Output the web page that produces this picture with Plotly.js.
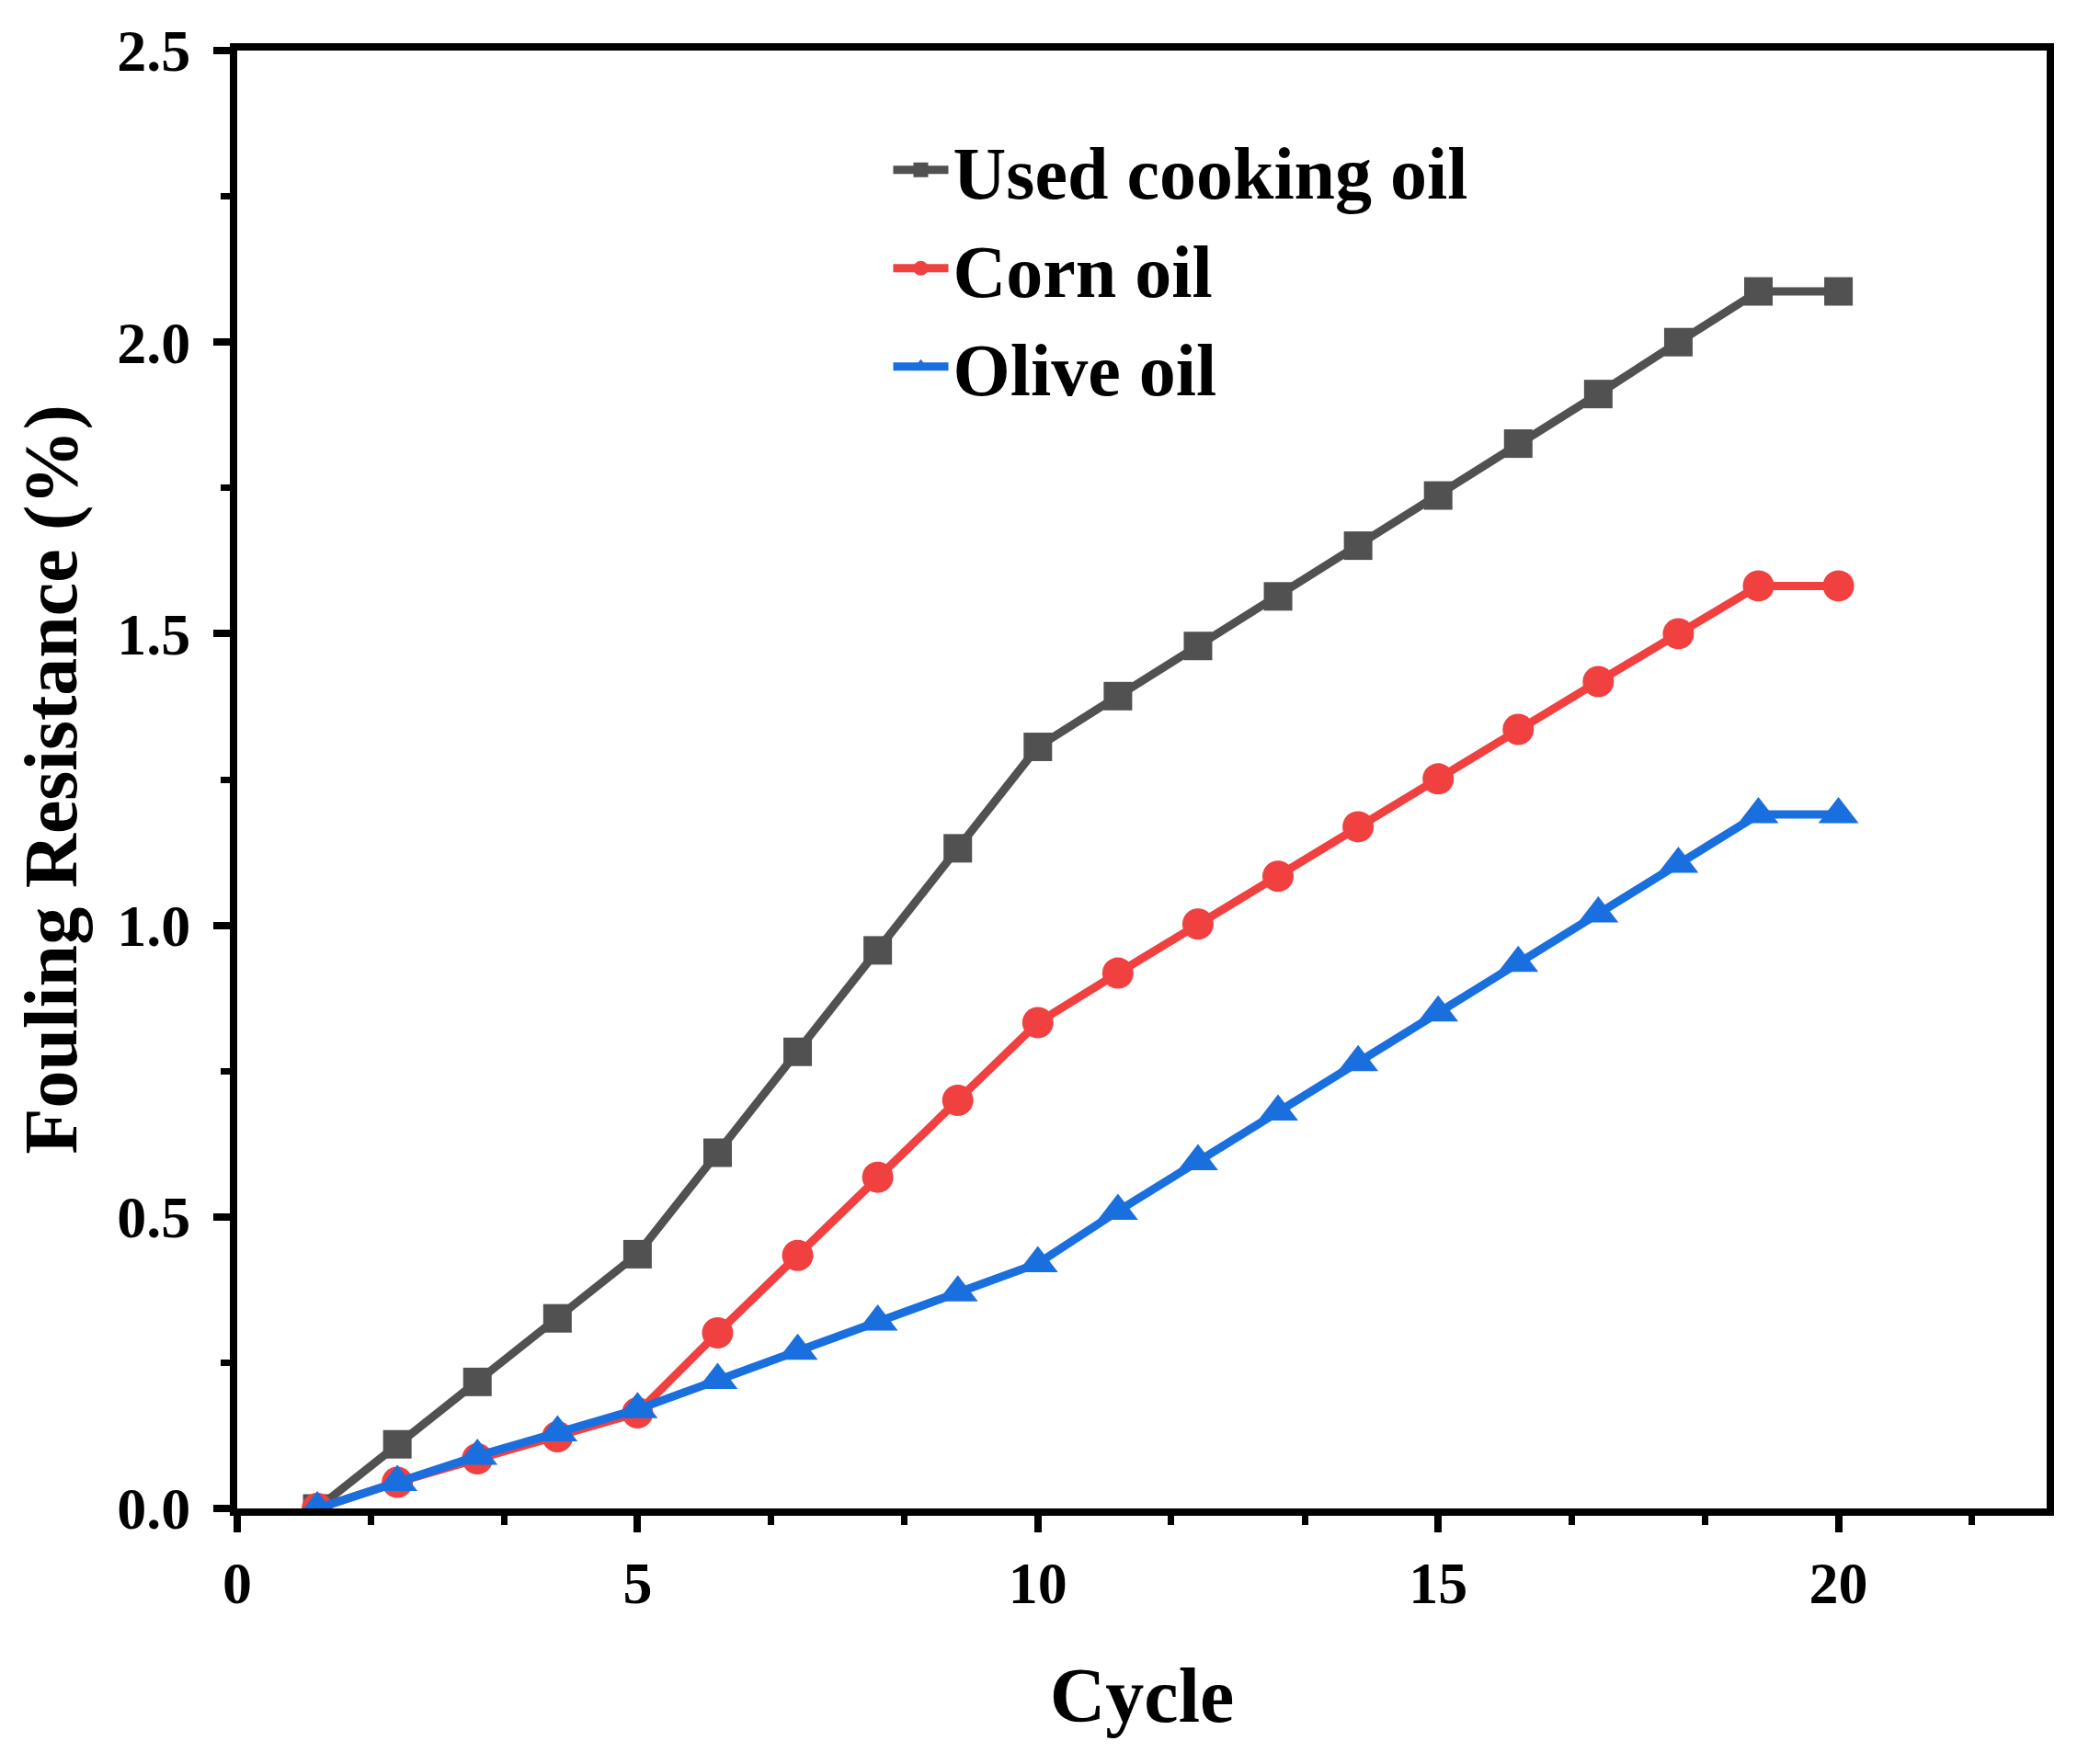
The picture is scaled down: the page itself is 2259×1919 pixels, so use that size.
<!DOCTYPE html>
<html>
<head>
<meta charset="utf-8">
<script src="https://cdn.plot.ly/plotly-3.0.1.min.js"></script>
<style>html,body{margin:0;padding:0;background:#fff;}#chart{width:2259px;height:1919px;}</style>
</head>
<body>
<div id="chart"></div>
<script>
const cycles = [1,2,3,4,5,6,7,8,9,10,11,12,13,14,15,16,17,18,19,20];
const usedCookingOil = [0.00,0.11,0.217,0.326,0.436,0.61,0.783,0.957,1.132,1.306,1.393,1.479,1.564,1.651,1.737,1.826,1.911,2.00,2.087,2.087];
const cornOil = [0.00,0.045,0.085,0.123,0.164,0.301,0.434,0.568,0.70,0.833,0.918,1.002,1.084,1.169,1.251,1.336,1.418,1.50,1.582,1.582];
const oliveOil = [0.00,0.045,0.09,0.13,0.17,0.22,0.27,0.32,0.37,0.42,0.51,0.595,0.68,0.765,0.85,0.935,1.02,1.105,1.19,1.19];
const seriesNames = ["Used cooking oil","Corn oil","Olive oil"];
const seriesColors = ["#515151","#f04040","#1a6fdf"];

const FONT = "Liberation Serif, Times New Roman, serif";

const traces = [
  {x: cycles, y: usedCookingOil, name: seriesNames[0], mode: "lines+markers",
   line: {color: seriesColors[0], width: 9}, marker: {symbol: "square", size: 31, color: seriesColors[0]}},
  {x: cycles, y: cornOil, name: seriesNames[1], mode: "lines+markers",
   line: {color: seriesColors[1], width: 9}, marker: {symbol: "circle", size: 34, color: seriesColors[1]}},
  {x: cycles, y: oliveOil, name: seriesNames[2], mode: "lines+markers",
   line: {color: seriesColors[2], width: 9}, marker: {symbol: "triangle-up", size: 38, color: seriesColors[2]}}
];

const layout = {
  width: 2259, height: 1919,
  paper_bgcolor: "#fff", plot_bgcolor: "#fff",
  margin: {l: 258, r: 33, t: 55, b: 278},
  font: {family: FONT, color: "#000", size: 64, weight: "bold"},
  showlegend: true,
  legend: {x: 0.36, y: 0.955, xanchor: "left", yanchor: "top", bgcolor: "rgba(0,0,0,0)",
           font: {family: FONT, size: 80, color: "#000", weight: "bold"}, itemwidth: 60, tracegroupgap: 0},
  xaxis: {
    range: [0, 22.6], dtick: 5, tick0: 0, showgrid: false, zeroline: false,
    showline: true, linecolor: "#000", linewidth: 8, mirror: true,
    ticks: "outside", ticklen: 18, tickwidth: 8, tickcolor: "#000",
    minor: {dtick: 5/3, tick0: 0, ticks: "outside", ticklen: 10, tickwidth: 7, tickcolor: "#000", showgrid: false},
    tickfont: {family: FONT, size: 64, color: "#000", weight: "bold"},
    title: {text: "Cycle", font: {family: FONT, size: 84, color: "#000", weight: "bold"}, standoff: 60}
  },
  yaxis: {
    range: [0, 2.5], dtick: 0.5, tick0: 0, tickformat: ".1f", showgrid: false, zeroline: false,
    showline: true, linecolor: "#000", linewidth: 8, mirror: true,
    ticks: "outside", ticklen: 18, tickwidth: 8, tickcolor: "#000", ticklabelstandoff: 12,
    minor: {dtick: 0.25, tick0: 0, ticks: "outside", ticklen: 10, tickwidth: 7, tickcolor: "#000", showgrid: false},
    tickfont: {family: FONT, size: 64, color: "#000", weight: "bold"},
    title: {text: "Fouling Resistance (%)", font: {family: FONT, size: 82, color: "#000", weight: "bold"}, standoff: 20}
  }
};

Plotly.newPlot("chart", traces, layout, {displayModeBar: false, staticPlot: true});
</script>
</body>
</html>
